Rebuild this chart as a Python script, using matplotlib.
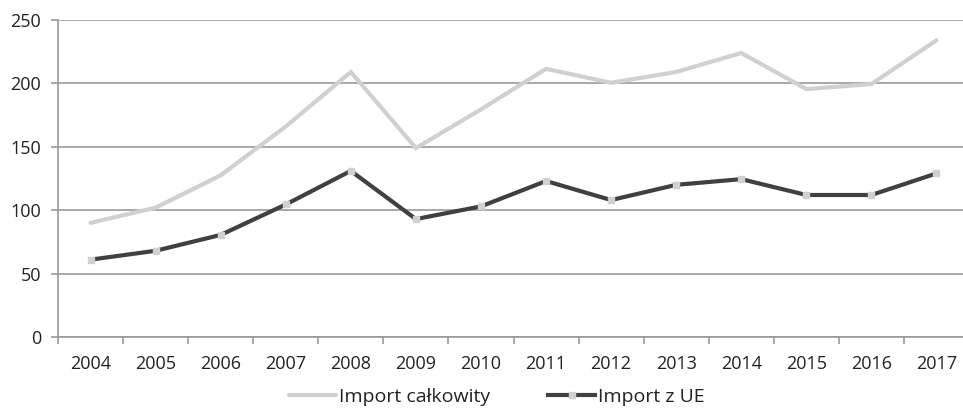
import numpy as np
import matplotlib.pyplot as plt

plt.rcParams['font.family'] = ['Open Sans', 'DejaVu Sans']

years = ['2004', '2005', '2006', '2007', '2008', '2009', '2010',
         '2011', '2012', '2013', '2014', '2015', '2016', '2017']
import_total = [90, 102, 127.5, 166, 209, 149, 179.5, 211.5, 200.5, 209, 224, 195.5, 199.5, 234]
import_ue = [61, 68, 80.5, 104.5, 131, 93, 103, 123, 108, 120, 124.5, 112, 112, 129]

grid_col = '#9a9a9a'

fig = plt.figure(figsize=(9.63, 4.17), dpi=100)
ax = fig.add_axes([58 / 963, 80 / 417, 911 / 963, 317 / 417])

x = np.arange(len(years))
ax.plot(x, import_total, color='#d0d0d0', lw=3.0, solid_capstyle='round',
        solid_joinstyle='miter', label='Import całkowity', zorder=3)
ax.plot(x, import_ue, color='#404040', lw=3.0, solid_joinstyle='miter',
        marker='s', ms=4.5, mfc='#d0d0d0', mec='#d0d0d0',
        label='Import z UE', zorder=4)

ax.set_xlim(-0.5, len(years) - 0.5)
ax.set_ylim(0, 250)
ax.set_yticks(np.arange(0, 251, 50))
ax.yaxis.grid(True, color=grid_col, lw=1.2)
ax.set_axisbelow(True)

# category labels centred, ticks on the boundaries between them
ax.set_xticks(x)
ax.set_xticklabels(years)
ax.set_xticks(np.arange(-0.5, len(years)), minor=True)
ax.tick_params(axis='x', which='major', length=0, pad=13, labelsize=13, colors='#222222')
ax.tick_params(axis='x', which='minor', length=5, width=1.2, color=grid_col)
ax.tick_params(axis='y', length=5, width=1.2, color=grid_col, pad=7,
               labelsize=13, labelcolor='#222222')

for side in ['top', 'right']:
    ax.spines[side].set_visible(False)
for side in ['left', 'bottom']:
    ax.spines[side].set_color(grid_col)
    ax.spines[side].set_linewidth(1.2)

fig.legend(loc='center', bbox_to_anchor=(497 / 963, 1 - 397 / 417), ncol=2,
           frameon=False, fontsize=14, handlelength=2.4, handletextpad=0.15,
           columnspacing=3.0, labelcolor='#222222')

fig.savefig('out.png', dpi=100)
